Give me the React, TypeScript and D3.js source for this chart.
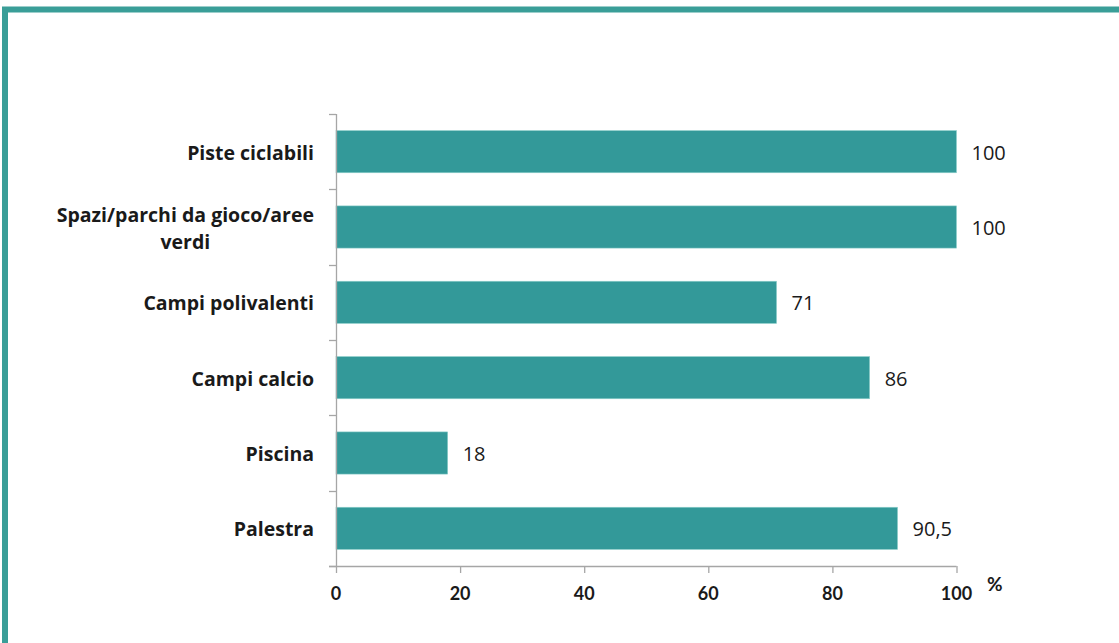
import React, { useEffect, useRef } from "react";
import * as d3 from "d3";

const categories: string[][] = [
  ["Piste ciclabili"],
  ["Spazi/parchi da gioco/aree", "verdi"],
  ["Campi polivalenti"],
  ["Campi calcio"],
  ["Piscina"],
  ["Palestra"],
];
const values: number[] = [100, 100, 71, 86, 18, 90.5];
const valueLabels: string[] = ["100", "100", "71", "86", "18", "90,5"];
const ticks: number[] = [0, 20, 40, 60, 80, 100];
const unitLabel = "%";

const W = 1119;
const H = 643;
const BAR = "#339999";
const BORDER = "#3a9e98";
const AXIS = "#a6a6a6";
const FONT = "Lato, 'Open Sans', sans-serif";
const LFONT = "'Open Sans', Lato, sans-serif";

export default function App() {
  const ref = useRef<SVGSVGElement | null>(null);

  useEffect(() => {
    document.body.style.margin = "0";
    const svg = d3.select(ref.current);
    svg.selectAll("*").remove();

    // frame
    svg
      .append("rect")
      .attr("x", 5)
      .attr("y", 9.5)
      .attr("width", 3000)
      .attr("height", 3000)
      .attr("fill", "none")
      .attr("stroke", BORDER)
      .attr("stroke-width", 6);

    const x0 = 336,
      x1 = 956.5,
      yTop = 114,
      yBot = 566;
    const x = d3.scaleLinear().domain([0, 100]).range([x0, x1]);
    const keys = categories.map((_, i) => String(i));
    const y = d3.scaleBand<string>().domain(keys).range([yTop, yBot]).paddingInner(0.44).paddingOuter(0.22);
    const yb = d3.scaleBand<string>().domain(keys).range([yTop, yBot]);

    const g = svg.append("g");

    // bars
    g.selectAll("rect.bar")
      .data(values)
      .join("rect")
      .attr("class", "bar")
      .attr("x", x(0))
      .attr("y", (_, i) => y(String(i))!)
      .attr("width", (d) => x(d) - x(0))
      .attr("height", y.bandwidth())
      .attr("fill", BAR)
      .attr("stroke", "#8fcfcb")
      .attr("stroke-width", 0.6);

    // value labels
    g.selectAll("text.val")
      .data(values)
      .join("text")
      .attr("class", "val")
      .attr("x", (d) => x(d) + 15)
      .attr("y", (_, i) => yb(String(i))! + yb.bandwidth() / 2 + 8)
      .attr("font-family", LFONT)
      .attr("font-size", 20)
      .attr("fill", "#1a1a1a")
      .text((_, i) => valueLabels[i]);

    // y axis line
    g.append("line")
      .attr("x1", x0 + 0.5)
      .attr("x2", x0 + 0.5)
      .attr("y1", yTop)
      .attr("y2", yBot)
      .attr("stroke", AXIS)
      .attr("stroke-width", 1.3);
    const bounds = d3.range(categories.length + 1).map((i) => yTop + i * yb.step());
    g.selectAll("line.yt")
      .data(bounds)
      .join("line")
      .attr("class", "yt")
      .attr("x1", x0 - 7)
      .attr("x2", x0)
      .attr("y1", (d) => Math.round(d) + 0.5)
      .attr("y2", (d) => Math.round(d) + 0.5)
      .attr("stroke", AXIS)
      .attr("stroke-width", 1.3);

    // x axis
    g.append("line")
      .attr("x1", x0 - 7)
      .attr("x2", x1)
      .attr("y1", yBot + 0.5)
      .attr("y2", yBot + 0.5)
      .attr("stroke", AXIS)
      .attr("stroke-width", 1.3);
    g.selectAll("line.xt")
      .data(ticks)
      .join("line")
      .attr("class", "xt")
      .attr("x1", (d) => x(d) + 0.5)
      .attr("x2", (d) => x(d) + 0.5)
      .attr("y1", yBot)
      .attr("y2", yBot + 7)
      .attr("stroke", AXIS)
      .attr("stroke-width", 1.3);
    g.selectAll("text.xl")
      .data(ticks)
      .join("text")
      .attr("class", "xl")
      .attr("x", (d) => x(d))
      .attr("y", yBot + 34)
      .attr("text-anchor", "middle")
      .attr("font-family", FONT)
      .attr("font-weight", "bold")
      .attr("font-size", 18)
      .attr("fill", "#1a1a1a")
      .text((d) => String(d));
    g.append("text")
      .attr("x", 987)
      .attr("y", 591)
      .attr("font-family", FONT)
      .attr("font-weight", "bold")
      .attr("font-size", 19)
      .attr("fill", "#1a1a1a")
      .text(unitLabel);

    // category labels
    const labelRight = 314;
    categories.forEach((lines, i) => {
      const cy = yb(String(i))! + yb.bandwidth() / 2;
      const first = lines.length === 1 ? cy + 8 : cy - 5;
      const nodes = lines.map((ln, k) =>
        g
          .append("text")
          .attr("font-family", LFONT)
          .attr("font-weight", "bold")
          .attr("font-size", 19.5)
          .attr("fill", "#1a1a1a")
          .attr("text-anchor", "middle")
          .attr("y", first + k * 26.5)
          .text(ln)
      );
      const widths = nodes.map((s) => (s.node() as SVGTextElement).getComputedTextLength());
      const maxW = Math.max(...widths);
      nodes.forEach((s) => s.attr("x", labelRight - maxW / 2));
    });
  }, []);

  return <svg ref={ref} width={W} height={H} style={{ display: "block", background: "#fff" }} />;
}
